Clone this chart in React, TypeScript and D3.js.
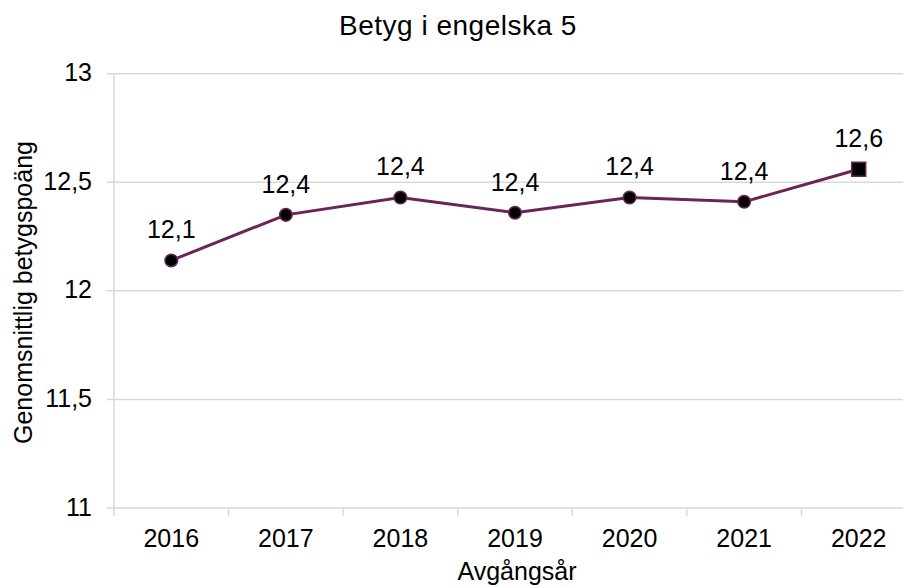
import React from "react";
import * as d3 from "d3";

const years = ["2016", "2017", "2018", "2019", "2020", "2021", "2022"];
const values = [12.14, 12.35, 12.43, 12.36, 12.43, 12.41, 12.56];
const labels = ["12,1", "12,4", "12,4", "12,4", "12,4", "12,4", "12,6"];
const yTicks = [11, 11.5, 12, 12.5, 13];
const yTickLabels = ["11", "11,5", "12", "12,5", "13"];

const W = 903;
const H = 587;
const FONT = "'Liberation Sans', Arial, sans-serif";
const LINE = "#6b2456";
const GRID = "#d9d9d9";
const FS = 25;

export default function App() {
  const x = d3.scaleBand<string>().domain(years).range([114, 916]);
  const y = d3.scaleLinear().domain([11, 13]).range([508, 73.7]);
  const cx = (d: string) => (x(d) as number) + x.bandwidth() / 2;
  const line = d3
    .line<number>()
    .x((_, i) => cx(years[i]))
    .y((v) => y(v));
  const boundaries = years.map((d) => x(d) as number);

  return (
    <svg
      width={W}
      height={H}
      style={{ position: "absolute", left: 0, top: 0, background: "#fff" }}
      fontFamily={FONT}
    >
      <rect x={0} y={0} width={W} height={H} fill="#fff" />
      {yTicks.map((t, i) => (
        <g key={t}>
          <line x1={107} x2={W} y1={y(t)} y2={y(t)} stroke={GRID} strokeWidth={1.5} />
          <text x={92} y={y(t) + 7.5} textAnchor="end" fontSize={FS} fill="#000">
            {yTickLabels[i]}
          </text>
        </g>
      ))}
      <line x1={114} x2={114} y1={y(13)} y2={y(11) + 8} stroke={GRID} strokeWidth={1.5} />
      {boundaries.slice(1).map((b, i) => (
        <line key={i} x1={b} x2={b} y1={y(11)} y2={y(11) + 8} stroke={GRID} strokeWidth={1.5} />
      ))}
      {years.map((d) => (
        <text key={d} x={cx(d)} y={546.5} textAnchor="middle" fontSize={FS} fill="#000">
          {d}
        </text>
      ))}
      <path d={line(values) || ""} fill="none" stroke={LINE} strokeWidth={3} />
      {values.map((v, i) =>
        i === values.length - 1 ? (
          <rect
            key={i}
            x={cx(years[i]) - 7}
            y={y(v) - 7}
            width={14}
            height={14}
            fill="#000"
            stroke={LINE}
            strokeWidth={1.5}
          />
        ) : (
          <circle key={i} cx={cx(years[i])} cy={y(v)} r={6.3} fill="#000" stroke={LINE} strokeWidth={1.5} />
        )
      )}
      {values.map((v, i) => (
        <text key={i} x={cx(years[i])} y={y(v) - 22} textAnchor="middle" fontSize={FS} fill="#000">
          {labels[i]}
        </text>
      ))}
      <text x={458} y={35} textAnchor="middle" fontSize={28} letterSpacing={0.5} fill="#000">
        Betyg i engelska 5
      </text>
      <text x={517} y={580} textAnchor="middle" fontSize={FS} fill="#000">
        Avgångsår
      </text>
      <text
        transform={`translate(32, 292.5) rotate(-90)`}
        textAnchor="middle"
        fontSize={FS}
        fill="#000"
      >
        Genomsnittlig betygspoäng
      </text>
    </svg>
  );
}
